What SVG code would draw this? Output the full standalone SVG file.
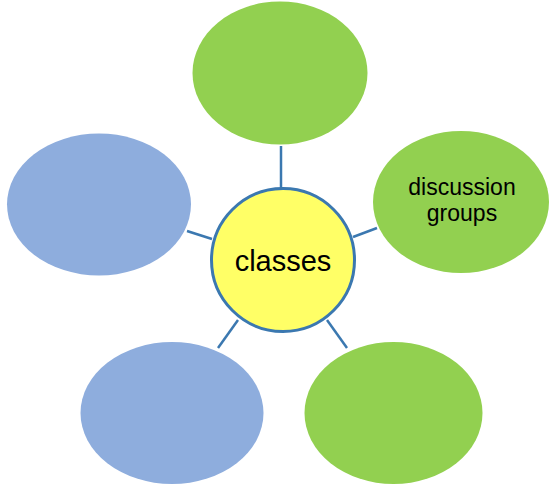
<svg xmlns="http://www.w3.org/2000/svg" width="549" height="485" viewBox="0 0 549 485">
<style>
.green{fill:#92d050}
.blue{fill:#8eaddd}
.link{stroke:#3b78b0;stroke-width:2.5;fill:none}
.center{fill:#ffff66;stroke:#3b78b0;stroke-width:3}
.t{font-family:"Liberation Sans",Arial,sans-serif;fill:#000;text-anchor:middle}
</style>
<rect width="549" height="485" fill="#fff"/>
<g id="connectors">
<line class="link" x1="281" y1="146" x2="281" y2="188"/>
<line class="link" x1="353" y1="237" x2="377" y2="228"/>
<line class="link" x1="327" y1="320" x2="347" y2="348"/>
<line class="link" x1="238" y1="320" x2="218" y2="348"/>
<line class="link" x1="187" y1="231" x2="212" y2="239"/>
</g>
<g id="top"><ellipse class="green" cx="280" cy="73" rx="87.5" ry="71.5"/></g>
<g id="discussion-groups"><ellipse class="green" cx="461" cy="202" rx="88" ry="71"/>
<text class="t" font-size="23" x="462" y="195">discussion</text>
<text class="t" font-size="23" x="462" y="221">groups</text></g>
<g id="bottom-right"><ellipse class="green" cx="393.5" cy="413" rx="89" ry="71"/></g>
<g id="bottom-left"><ellipse class="blue" cx="172" cy="413" rx="91.5" ry="71"/></g>
<g id="left"><ellipse class="blue" cx="99" cy="204.5" rx="92" ry="71"/></g>
<g id="classes"><circle class="center" cx="283" cy="260" r="71.5"/>
<text class="t" font-size="29" x="283" y="271">classes</text></g>
</svg>
